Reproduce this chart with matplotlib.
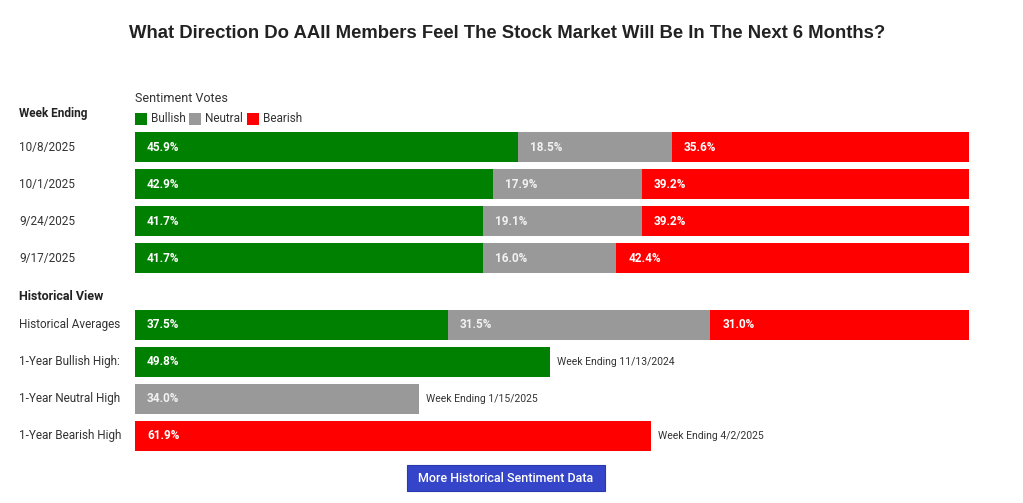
import matplotlib
matplotlib.use("Agg")
import matplotlib.pyplot as plt
from matplotlib.patches import Rectangle

# ---- data ----
week_labels = ["10/8/2025", "10/1/2025", "9/24/2025", "9/17/2025"]
bullish = [45.9, 42.9, 41.7, 41.7]
neutral = [18.5, 17.9, 19.1, 16.0]
bearish = [35.6, 39.2, 39.2, 42.4]

hist_avg_label = "Historical Averages"
hist_avg = [37.5, 31.5, 31.0]  # bullish, neutral, bearish

high_labels = ["1-Year Bullish High:", "1-Year Neutral High", "1-Year Bearish High"]
high_values = [49.8, 34.0, 61.9]
high_notes = ["Week Ending 11/13/2024", "Week Ending 1/15/2025", "Week Ending 4/2/2025"]

series_names = ["Bullish", "Neutral", "Bearish"]
title = "What Direction Do AAII Members Feel The Stock Market Will Be In The Next 6 Months?"

# ---- style ----
GREEN, GRAY, RED = "#008000", "#999999", "#ff0000"
colors = [GREEN, GRAY, RED]
TXT = "#333333"
W, H = 1023, 503
FONT = ["Roboto", "DejaVu Sans"]

fig = plt.figure(figsize=(W / 100, H / 100), dpi=100)
fig.patch.set_facecolor("white")

def fx(px):
    return px / W

def fy(py):
    return 1 - py / H

# axes spans bar area: x 135..969 px (0..100), y 132..451 px
row_step = 37.0
bar_h = 30.0 / row_step
y_week = [0, 1, 2, 3]
y_hist = [4.81, 5.81, 6.81, 7.81]
top = -bar_h / 2
bot = y_hist[-1] + bar_h / 2
ax = fig.add_axes([fx(135), fy(451), fx(969) - fx(135), (451 - 132) / H])
ax.set_xlim(0, 100)
ax.set_ylim(bot, top)
ax.axis("off")

def seg_label(x, y, val, color="white"):
    ax.annotate(f"{val:.1f}%", xy=(x, y), xytext=(12, 0), textcoords="offset pixels",
                ha="left", va="center", color=color, fontsize=8.5, fontweight="bold",
                family=FONT)

# weekly stacked bars
for y, b, n, r in zip(y_week, bullish, neutral, bearish):
    left = 0
    for v, c in zip([b, n, r], colors):
        ax.barh(y, v, left=left, height=bar_h, color=c, edgecolor="none")
        seg_label(left, y, v, "white" if c != GRAY else "#f2f2f2")
        left += v

# historical average stacked
left = 0
for v, c in zip(hist_avg, colors):
    ax.barh(y_hist[0], v, left=left, height=bar_h, color=c, edgecolor="none")
    seg_label(left, y_hist[0], v, "white" if c != GRAY else "#f2f2f2")
    left += v

# one-year highs
for y, v, c, note in zip(y_hist[1:], high_values, colors, high_notes):
    ax.barh(y, v, height=bar_h, color=c, edgecolor="none")
    seg_label(0, y, v, "white" if c != GRAY else "#f2f2f2")
    ax.annotate(note, xy=(v, y), xytext=(7, 0), textcoords="offset pixels",
                ha="left", va="center", color=TXT, fontsize=7.5, family=FONT)

# row labels (left)
for y, lab in zip(y_week, week_labels):
    ax.annotate(lab, xy=(0, y), xycoords=("axes fraction", "data"), xytext=(-116, 0),
                textcoords="offset pixels", ha="left", va="center", color=TXT,
                fontsize=8.5, family=FONT)
for y, lab in zip(y_hist, [hist_avg_label] + high_labels):
    ax.annotate(lab, xy=(0, y), xycoords=("axes fraction", "data"), xytext=(-116, 0),
                textcoords="offset pixels", ha="left", va="center", color=TXT,
                fontsize=8.5, family=FONT)

# headers
fig.text(fx(19), fy(114), "Week Ending", ha="left", va="center", color="#222222",
         fontsize=8.5, fontweight="bold", family=FONT)
fig.text(fx(19), fy(296), "Historical View", ha="left", va="center", color="#222222",
         fontsize=9, fontweight="bold", family=FONT)

# title
fig.text(fx(507), fy(33), title, ha="center", va="center", color="#222222",
         fontsize=13.35, fontweight="bold", family=["Liberation Sans", "DejaVu Sans"])

# legend
fig.text(fx(135), fy(99), "Sentiment Votes", ha="left", va="center", color=TXT,
         fontsize=9, family=FONT)
lx = 135
for name, c in zip(series_names, colors):
    fig.patches.append(Rectangle((fx(lx), fy(125)), fx(12), 12 / H, transform=fig.transFigure,
                                 facecolor=c, edgecolor="none"))
    fig.text(fx(lx + 16), fy(119), name, ha="left", va="center", color=TXT,
             fontsize=8.5, family=FONT)
    lx += {"Bullish": 54, "Neutral": 58, "Bearish": 60}[name]

# button
fig.patches.append(Rectangle((fx(407), fy(491)), fx(605) - fx(407), 26 / H,
                             transform=fig.transFigure, facecolor="#3545c9",
                             edgecolor="#2a38b0", linewidth=0.8))
fig.text(fx(506), fy(478), "More Historical Sentiment Data", ha="center", va="center",
         color="white", fontsize=9, fontweight="medium", family=FONT)

fig.savefig("out.png", dpi=100, facecolor="white")
